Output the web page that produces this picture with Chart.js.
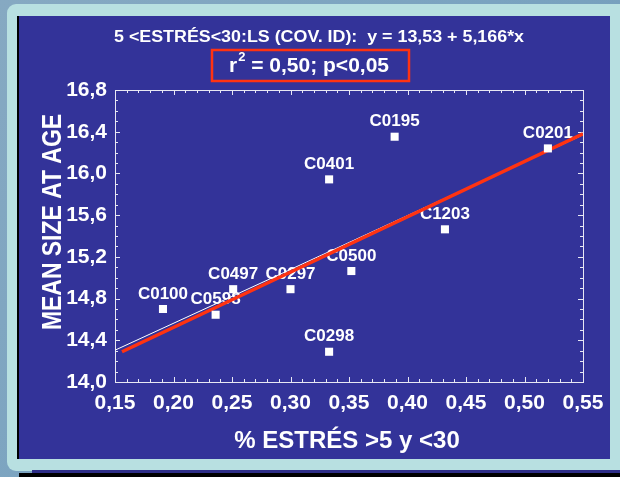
<!DOCTYPE html>
<html>
<head>
<meta charset="utf-8">
<script src="https://cdn.jsdelivr.net/npm/chart.js@4"></script>
<style>
  html, body { margin: 0; padding: 0; background: #7fa6bf; }
  #chart { display: block; }
</style>
</head>
<body>
<canvas id="chart" width="620" height="477"></canvas>
<script>
// Data
const stationNames = ["C0100", "C0598", "C0497", "C0297", "C0500", "C0298", "C0401", "C0195", "C0201", "C1203"];
const stressPct = [0.191, 0.236, 0.251, 0.300, 0.352, 0.333, 0.333, 0.389, 0.520, 0.432];
const meanSize = [14.70, 14.645, 14.89, 14.89, 15.064, 14.29, 15.943, 16.352, 16.24, 15.464];

// fitted line (white) and hand-drawn line (red) endpoints
const fitX = [0.15, 0.55];
const fitY = [14.305, 16.37];
const redX = [0.156, 0.55];
const redY = [14.29, 16.38];

const xTicks = [0.15, 0.20, 0.25, 0.30, 0.35, 0.40, 0.45, 0.50, 0.55];
const yTicks = [14.0, 14.4, 14.8, 15.2, 15.6, 16.0, 16.4, 16.8];
const xMinorStep = 0.01;
const yMinorStep = 0.1;

const titleLine1 = "5 <ESTRÉS<30:LS (COV. ID):  y = 13,53 + 5,166*x";
const titleLine2a = "r";
const titleLine2sup = "2";
const titleLine2b = " = 0,50; p<0,05";
const xTitle = "% ESTRÉS >5 y <30";
const yTitle = "MEAN SIZE AT AGE";

const NAVY = "#333399";
const RED = "#ff3311";
const FONT = "'Liberation Sans', Arial, sans-serif";

const toPts = (xs, ys) => xs.map((x, i) => ({ x, y: ys[i] }));

// draw text squeezed/stretched to a given width
function fitText(ctx, text, x, y, width) {
    const w = ctx.measureText(text).width;
    ctx.save();
    ctx.translate(x, y);
    ctx.scale(width / w, 1);
    ctx.fillText(text, 0, 0);
    ctx.restore();
}

// Frame, titles, labels and minor ticks
const framePlugin = {
    id: "frame",
    beforeDraw(chart) {
        const ctx = chart.ctx;
        ctx.save();
        const bg = ctx.createLinearGradient(0, 0, 620, 477);
        bg.addColorStop(0, "#86a9c2");
        bg.addColorStop(0.5, "#7aa3c0");
        bg.addColorStop(1, "#6f98b6");
        ctx.fillStyle = bg;
        ctx.fillRect(0, 0, 620, 477);
        // light cyan mat
        ctx.fillStyle = "#b8e0e1";
        ctx.beginPath();
        ctx.roundRect(7, 4, 640, 467, 9);
        ctx.fill();
        // shadow + bottom strip
        ctx.fillStyle = "#000";
        ctx.fillRect(17, 16, 2, 443);
        ctx.fillRect(19, 473, 601, 4);
        ctx.fillStyle = "#2e2e88";
        ctx.fillRect(32, 470, 588, 3);
        // navy panel
        ctx.fillStyle = NAVY;
        ctx.fillRect(19, 16, 591, 443);
        ctx.restore();
    },
    beforeDatasetsDraw(chart) {
        const ctx = chart.ctx;
        const xs = chart.scales.x, ys = chart.scales.y;
        const a = chart.chartArea;
        ctx.save();
        // plot border
        ctx.strokeStyle = "#e8e8f4";
        ctx.lineWidth = 1;
        ctx.strokeRect(Math.round(a.left) + 0.5, Math.round(a.top) + 0.5, Math.round(a.right - a.left), Math.round(a.bottom - a.top));
        // ticks, inward on all four sides
        ctx.beginPath();
        for (let v = xs.min; v <= xs.max + 1e-9; v += xMinorStep) {
            const major = xTicks.some(t => Math.abs(t - v) < 1e-6);
            const len = major ? 5 : 3;
            const px = Math.round(xs.getPixelForValue(v)) + 0.5;
            ctx.moveTo(px, a.bottom); ctx.lineTo(px, a.bottom - len);
            ctx.moveTo(px, a.top); ctx.lineTo(px, a.top + len);
        }
        for (let v = ys.min; v <= ys.max + 1e-9; v += yMinorStep) {
            const major = yTicks.some(t => Math.abs(t - v) < 1e-6);
            const len = major ? 5 : 3;
            const py = Math.round(ys.getPixelForValue(v)) + 0.5;
            ctx.moveTo(a.left, py); ctx.lineTo(a.left + len, py);
            ctx.moveTo(a.right, py); ctx.lineTo(a.right - len, py);
        }
        ctx.stroke();

        // point labels
        ctx.fillStyle = "#fff";
        ctx.font = "bold 17px " + FONT;
        ctx.textAlign = "center";
        ctx.textBaseline = "middle";
        stationNames.forEach((n, i) => {
            const px = xs.getPixelForValue(stressPct[i]);
            const py = ys.getPixelForValue(meanSize[i]);
            ctx.fillText(n, px, py - 15);
        });

        // title line 1 (narrow face in the original)
        ctx.font = "bold 16px " + FONT;
        ctx.textAlign = "left";
        fitText(ctx, titleLine1, 114, 38, 410);

        // title line 2 in red box
        ctx.strokeStyle = RED;
        ctx.lineWidth = 2.5;
        ctx.strokeRect(212, 50, 197, 31);
        ctx.font = "bold 21px " + FONT;
        let x = 229;
        ctx.fillText(titleLine2a, x, 66);
        x += ctx.measureText(titleLine2a).width;
        ctx.font = "bold 13px " + FONT;
        ctx.fillText(titleLine2sup, x + 1, 57);
        x += ctx.measureText(titleLine2sup).width + 1;
        ctx.font = "bold 21px " + FONT;
        ctx.fillText(titleLine2b, x, 66);

        // axis titles
        ctx.textAlign = "center";
        ctx.font = "bold 24px " + FONT;
        ctx.fillText(xTitle, 347, 441);
        ctx.save();
        ctx.translate(53, 222);
        ctx.rotate(-Math.PI / 2);
        ctx.font = "bold 28px " + FONT;
        ctx.textAlign = "left";
        fitText(ctx, yTitle, -108, 0, 216);
        ctx.restore();
        ctx.restore();
    }
};

new Chart(document.getElementById("chart"), {
    type: "scatter",
    data: {
        datasets: [
            {
                label: "stations",
                data: toPts(stressPct, meanSize),
                pointStyle: "rect",
                pointRadius: 5.7,
                borderWidth: 0,
                backgroundColor: "#ffffff",
                showLine: false
            },
            {
                label: "red",
                data: toPts(redX, redY),
                showLine: true,
                borderColor: RED,
                borderWidth: 3.5,
                pointRadius: 0
            },
            {
                label: "fit",
                data: toPts(fitX, fitY),
                showLine: true,
                borderColor: "#ffffff",
                borderWidth: 1,
                pointRadius: 0
            }
        ]
    },
    options: {
        responsive: false,
        animation: false,
        devicePixelRatio: 1,
        layout: { padding: { left: 0, top: 90, right: 37, bottom: 0 } },
        plugins: { legend: { display: false }, tooltip: { enabled: false } },
        scales: {
            x: {
                type: "linear",
                min: 0.15,
                max: 0.55,
                afterBuildTicks: s => { s.ticks = xTicks.map(v => ({ value: v })); },
                afterFit: s => { s.height = 95; },
                grid: { display: false, drawTicks: false },
                border: { display: false },
                ticks: {
                    color: "#fff",
                    padding: 9,
                    font: { family: FONT, size: 21, weight: "bold" },
                    callback: v => v.toFixed(2).replace(".", ",")
                }
            },
            y: {
                type: "linear",
                min: 14.0,
                max: 16.8,
                afterBuildTicks: s => { s.ticks = yTicks.map(v => ({ value: v })); },
                afterFit: s => { s.width = 115; },
                grid: { display: false, drawTicks: false },
                border: { display: false },
                ticks: {
                    color: "#fff",
                    padding: 8,
                    font: { family: FONT, size: 21, weight: "bold" },
                    callback: v => v.toFixed(1).replace(".", ",")
                }
            }
        }
    },
    plugins: [framePlugin]
});
</script>
</body>
</html>
